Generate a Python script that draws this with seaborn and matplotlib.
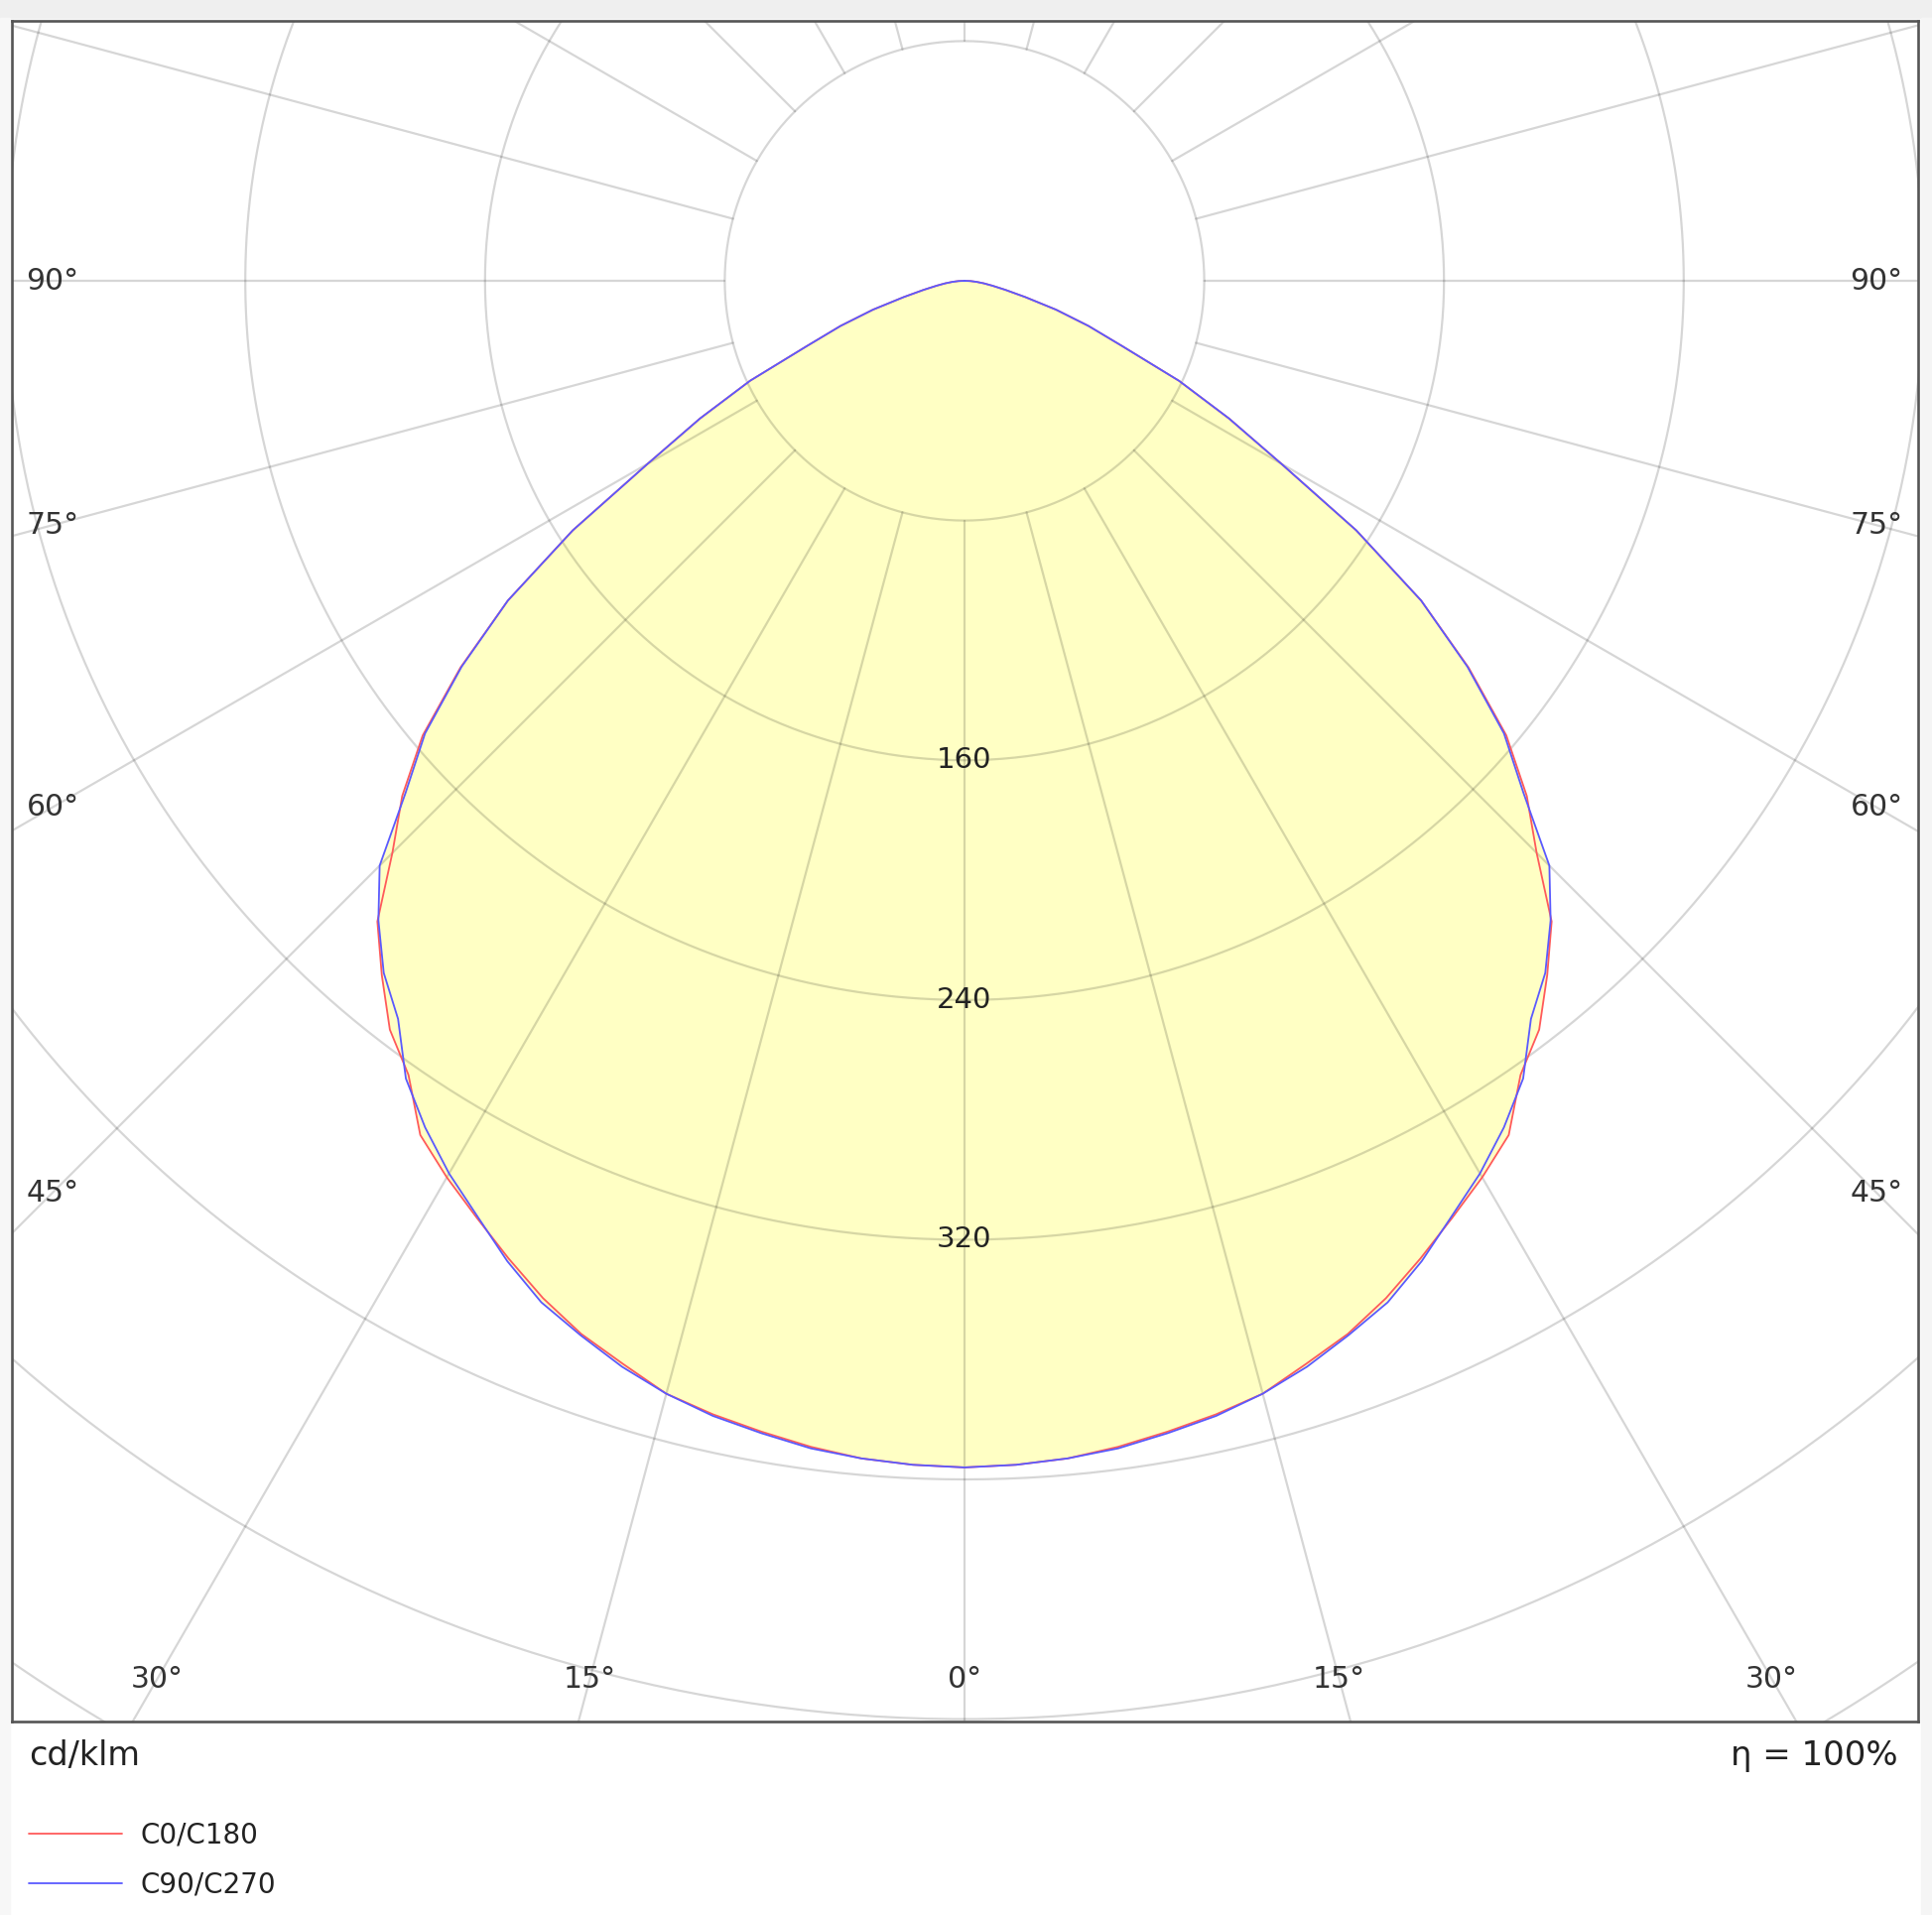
import numpy as np
import pandas as pd
import matplotlib
matplotlib.use("Agg")
import matplotlib.pyplot as plt
import seaborn as sns
from matplotlib.patches import Rectangle

# luminous intensity distribution, cd/klm, gamma measured from nadir
gamma = [0, 2.5, 5, 7.5, 10, 12.5, 15, 17.5, 20, 22.5, 25, 27.5, 30, 32.5, 35, 37.5,
         40, 42.5, 45, 47.5, 50, 52.5, 55, 57.5, 60, 62.5, 65, 67.5, 70, 72.5, 75,
         77.5, 80, 82.5, 85, 87.5, 90]
c0_c180 = [396, 395.5, 394.5, 392.5, 390, 387.5, 384.5, 379, 374, 367.5, 360, 352.5,
           345.5, 338, 323.5, 315, 302.5, 290, 270, 254.5, 236, 212, 186, 155, 122,
           99.5, 79, 57, 44, 32, 21, 14, 9.5, 6.5, 4, 2, 0]
c90_c270 = [396, 395.5, 394.5, 393, 390.5, 388, 384.5, 380, 374.5, 369, 361, 352,
            344, 335, 325, 310.5, 301.5, 289.5, 276, 253, 235, 211.5, 186, 155, 122,
            99.5, 79, 57, 44, 32, 21, 14, 9.5, 6.5, 4, 2, 0]
series_names = ["C0/C180", "C90/C270"]
series_colors = ["#ff5a5a", "#5a5aff"]

ring_values = [80, 160, 240, 320, 400, 480, 560, 640]
ring_labels = [160, 240, 320]
side_angles = [90, 75, 60, 45]
bottom_angles = [-30, -15, 0, 15, 30]
unit_label = "cd/klm"
efficiency_label = "η = 100%"

sns.set_style("white")
plt.rcParams["font.family"] = ["DejaVu Sans"]

W, H = 1947, 1930
fig = plt.figure(figsize=(W / 100, H / 100), dpi=100)

# plot frame in pixels, pole and scale of the diagram
left_px, right_px, top_px, bottom_px = 12, 1933, 21, 1735
cx, cy, scale = 972, 283, 3.02
ax = fig.add_axes([left_px / W, 1 - bottom_px / H,
                   (right_px - left_px) / W, (bottom_px - top_px) / H])
ax.set_xlim((left_px - cx) / scale, (right_px - cx) / scale)
ax.set_ylim((cy - bottom_px) / scale, (cy - top_px) / scale)

# page decoration around the chart
fig.add_artist(Rectangle((0, 1 - 18 / H), 1, 18 / H, transform=fig.transFigure,
                         color="#efefef", zorder=0))
fig.add_artist(Rectangle((0, 0), 10 / W, 1 - 18 / H, transform=fig.transFigure,
                         color="#f7f7f7", zorder=0))
fig.add_artist(Rectangle((1936 / W, 0), 11 / W, 1 - 18 / H, transform=fig.transFigure,
                         color="#f5f5f5", zorder=0))

# build the closed outlines (C180 / C270 on the left, C0 / C90 on the right)
rows = []
for name, values in zip(series_names, [c0_c180, c90_c270]):
    g = np.radians(np.array(gamma))
    v = np.array(values)
    xs = np.concatenate([-v[::-1] * np.sin(g[::-1]), v * np.sin(g)])
    ys = np.concatenate([-v[::-1] * np.cos(g[::-1]), -v * np.cos(g)])
    for x, y in zip(xs, ys):
        rows.append({"x": x, "y": y, "series": name})
df = pd.DataFrame(rows)

for name in series_names:
    part = df[df["series"] == name]
    ax.fill(part["x"], part["y"], color="#ffffc4", lw=0, zorder=1)

# polar grid drawn above the fill
grid_kw = dict(color="black", alpha=0.16, lw=1.6, zorder=2)
t = np.linspace(0, 2 * np.pi, 721)
for r in ring_values:
    ax.plot(r * np.cos(t), r * np.sin(t), **grid_kw)
for a in range(0, 360, 15):
    ar = np.radians(a)
    ax.plot([80 * np.sin(ar), 700 * np.sin(ar)], [-80 * np.cos(ar), -700 * np.cos(ar)],
            **grid_kw)

sns.lineplot(data=df, x="x", y="y", hue="series", sort=False, estimator=None,
             palette=dict(zip(series_names, series_colors)), linewidth=1.3,
             legend=False, ax=ax, zorder=3)

# value labels on the rings
for v in ring_labels:
    ax.text(0, -v, str(v), ha="center", va="center", fontsize=21, color="#222222",
            zorder=4)

# angle labels along the frame
x_side = (53 - cx) / scale
for a in side_angles:
    y = 0 if a == 90 else x_side / np.tan(np.radians(a))
    ax.text(x_side, y, f"{a}°", ha="center", va="center", fontsize=21.5, color="#333333")
    ax.text(-x_side, y, f"{a}°", ha="center", va="center", fontsize=21.5, color="#333333")
y_bottom = (cy - 1692) / scale
for a in bottom_angles:
    ax.text(-y_bottom * np.tan(np.radians(a)), y_bottom, f"{abs(a)}°", ha="center",
            va="center", fontsize=21.5, color="#333333")

ax.set_xticks([])
ax.set_yticks([])
ax.set_xlabel("")
ax.set_ylabel("")
for sp in ax.spines.values():
    sp.set_visible(True)
    sp.set_color("#555555")
    sp.set_linewidth(1.9)

fig.text(29 / W, 1 - 1770 / H, unit_label, ha="left", va="center", fontsize=24,
         color="#222222")
fig.text(1913 / W, 1 - 1770 / H, efficiency_label, ha="right", va="center",
         fontsize=24.5, color="#222222")

fig.legend(handles=ax.get_lines()[-2:], labels=series_names, loc="upper left",
           bbox_to_anchor=(29 / W, 1 - 1836 / H), frameon=False, fontsize=20,
           handlelength=3.4, handletextpad=0.65, labelspacing=0.78, borderpad=0,
           borderaxespad=0, labelcolor="#222222")

fig.savefig("out.png", dpi=100, facecolor="white")
